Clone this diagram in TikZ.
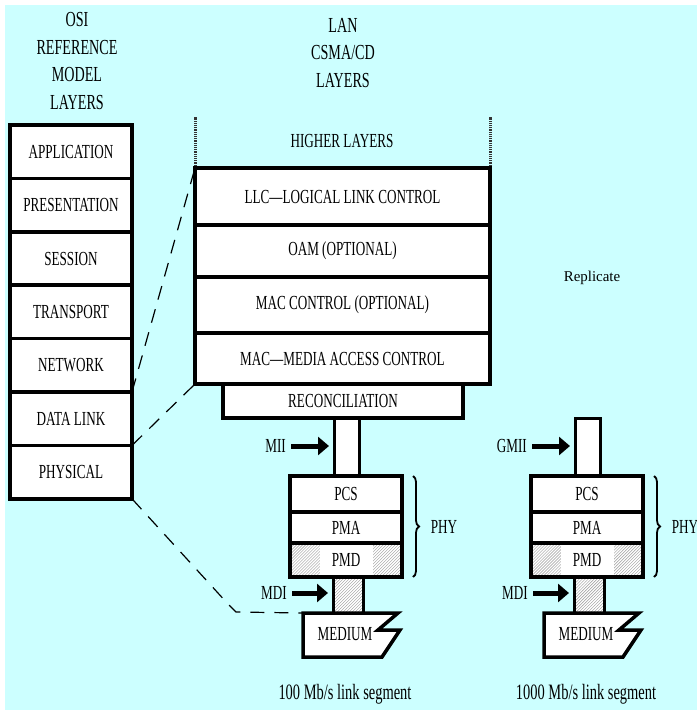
\documentclass[tikz,border=0pt]{standalone}
\usepackage{fontspec}
\setmainfont{Liberation Serif}[FakeStretch=0.66]
\newfontfamily\plainserif{Liberation Serif}
\usetikzlibrary{arrows.meta,patterns,decorations.pathreplacing}

\definecolor{skyback}{HTML}{CCFFFF}

\begin{document}
\begin{tikzpicture}[x=1bp,y=-1bp,>={Triangle[length=11bp,width=18bp]},
  box/.style={draw=black,line width=3.5bp,fill=white,inner sep=0pt,outer sep=0pt,
    anchor=north west,font=\fontsize{20}{22}\selectfont},
  hatch/.style={preaction={fill=white},pattern=north east lines,pattern color=gray!80},
  tag/.style={inner sep=0pt,font=\fontsize{20}{22}\selectfont},
  head/.style={inner sep=0pt,align=center,font=\fontsize{21.5}{27.5}\selectfont},
  feed/.style={->,line width=5bp,shorten <=5bp,shorten >=5bp},
  link/.style={dash pattern=on 14bp off 10bp,line width=1.2bp},
  rail/.style={dash pattern=on 1.2bp off 1bp,line width=3bp,black!80},
  phybrace/.style={decorate,decoration={brace,amplitude=6bp},line width=1.8bp}]
  \useasboundingbox (0,0) rectangle (697,710);
  \clip (0,0) rectangle (697,710);
  \fill[skyback] (5,5) rectangle (697,710);

  % headings
  \node[head] (osihead) at (77,61) {OSI\\REFERENCE\\MODEL\\LAYERS};
  \node[head] (lanhead) at (343,53) {LAN\\CSMA/CD\\LAYERS};

  % OSI reference model
  \foreach \name/\txt [count=\i from 0] in {app/APPLICATION,pres/PRESENTATION,
      sess/SESSION,trans/TRANSPORT,net/NETWORK,dlink/DATA LINK,phys/PHYSICAL}
    \node[box,minimum width=122bp,minimum height=53.4bp] (\name) at (10,125+53.4*\i) {\txt};

  % LAN layers
  \draw[rail] (195,168) -- ++(0,-51);
  \draw[rail] (490,168) -- ++(0,-51);
  \node[tag] (higher) at (342,141) {HIGHER LAYERS};
  \node[box,minimum width=295bp,minimum height=57bp] (llc) at (195,168) {LLC—LOGICAL LINK CONTROL};
  \node[box,minimum width=295bp,minimum height=52bp] (oam) at (195,225) {OAM (OPTIONAL)};
  \node[box,minimum width=295bp,minimum height=56bp] (macc) at (195,277) {MAC CONTROL (OPTIONAL)};
  \node[box,minimum width=295bp,minimum height=51bp] (mac) at (195,333) {MAC—MEDIA ACCESS CONTROL};
  \node[box,minimum width=240bp,minimum height=34bp] (recon) at (223,384) {RECONCILIATION};

  \node[font=\plainserif\fontsize{15}{17}\selectfont,inner sep=0pt] (replicate) at (592,278) {Replicate};

  % the two PHY stacks
  \foreach \s/\k/\mii/\rate in {0/a/MII/100,241/b/GMII/1000}{
    \node[box,line width=3bp,minimum width=25bp,minimum height=58bp] (mii\k) at (334+\s,418) {};
    \node[box,minimum width=112bp,minimum height=36bp] (pcs\k) at (290+\s,476) {PCS};
    \node[box,minimum width=112bp,minimum height=31bp] (pma\k) at (290+\s,512) {PMA};
    \node[box,hatch,minimum width=112bp,minimum height=34bp] (pmd\k) at (290+\s,543) {};
    \node[tag,fill=white,minimum width=53bp,minimum height=30bp] (pmdtag\k) at (pmd\k.center) {PMD};
    \node[box,hatch,line width=3bp,minimum width=30bp,minimum height=36bp] (mdi\k) at (333+\s,577) {};
    \draw[line width=3.5bp,fill=white] (303+\s,613) coordinate (med\k) -- (398+\s,613)
      -- (378+\s,630) -- (400+\s,630) -- (382+\s,657) -- (303+\s,657) -- cycle;
    \node[tag] (medtag\k) at (345+\s,634) {MEDIUM};
    \node[tag,anchor=east] (miilab\k) at (286+\s,446) {\mii};
    \draw[feed] (miilab\k.east) -- (miilab\k.east -| mii\k.west);
    \node[tag,anchor=east] (mdilab\k) at (287+\s,593) {MDI};
    \draw[feed] (mdilab\k.east) -- (mdilab\k.east -| mdi\k.west);
    \draw[phybrace] ([xshift=11bp]pcs\k.north east) -- ([xshift=11bp]pmd\k.south east)
      node[tag,midway,anchor=west,xshift=17bp] (phy\k) {PHY};
    \node[tag,font=\fontsize{22}{24}\selectfont] (seg\k) at (345+\s,694) {\rate\ Mb/s link segment};
  }

  % mapping to the OSI layers
  \draw[link] (net.south east) -- (llc.north west);
  \draw[link] (dlink.south east) -- (mac.south west);
  \draw[link] (phys.south east) -- (228,604) -- (236,612) -- (meda);
\end{tikzpicture}
\end{document}
